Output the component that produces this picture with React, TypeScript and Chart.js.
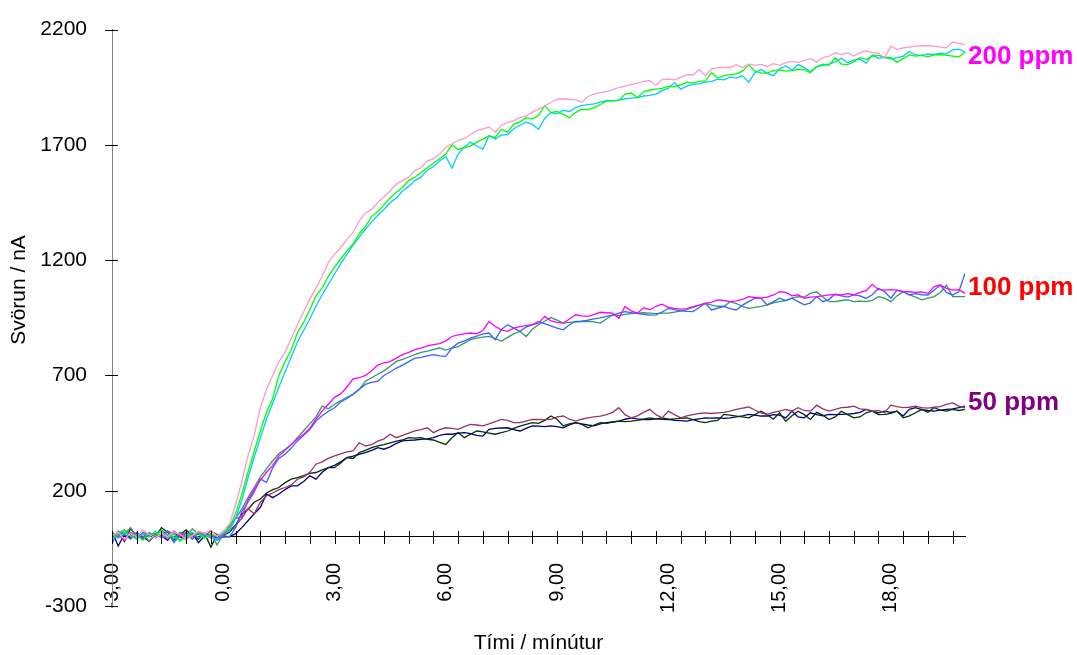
import React, { useEffect, useRef } from 'react';
import { Chart, registerables } from 'chart.js';

Chart.register(...registerables);

// Time grid: samples every 10 s (1/6 min), starting at -3,00 min
const START_MIN = -3;
const STEP_MIN = 1 / 6;

// ---- 200 ppm ----
const PINK_200 = [
  5, 20, -10, 15, 0, 30,
  10, -5, 15, 0, 20, 10,
  -10, 5, 25, 15, 30, 0,
  25, 55, 140, 240, 350, 440,
  560, 640, 700, 760, 800, 860,
  920, 975, 1030, 1080, 1130, 1190,
  1225, 1255, 1290, 1320, 1370, 1405,
  1420, 1450, 1475, 1500, 1530, 1545,
  1560, 1590, 1600, 1630, 1640, 1660,
  1690, 1705, 1720, 1728, 1745, 1762,
  1768, 1778, 1755, 1785, 1797, 1805,
  1818, 1825, 1842, 1855, 1868, 1885,
  1898, 1900, 1898, 1895, 1885, 1910,
  1920, 1927, 1932, 1940, 1948, 1955,
  1962, 1968, 1975, 1979, 1958, 1984,
  1985, 1982, 1993, 2005, 2003, 2027,
  2000, 2030, 2034, 2036, 2035, 2048,
  2035, 2050, 2045, 2049, 2040, 2052,
  2045, 2057, 2062, 2057, 2066, 2074,
  2060, 2078, 2085, 2100, 2092, 2100,
  2085, 2100, 2107, 2100, 2097, 2078,
  2128, 2114, 2121, 2124, 2128, 2130,
  2131, 2128, 2124, 2121, 2146, 2140,
  2136,
];
const GREEN_200 = [
  -10, 15, 30, 0, 10, -15,
  20, 5, 25, -5, 15, -20,
  0, 10, 20, -5, 10, 5,
  20, 40, 100, 185, 280, 370,
  460, 540, 600, 700, 760, 810,
  885, 930, 985, 1045, 1080, 1130,
  1170, 1205, 1240, 1270, 1315, 1345,
  1390, 1410, 1440, 1470, 1495, 1515,
  1545, 1560, 1580, 1600, 1620, 1640,
  1660, 1700, 1680, 1688, 1695, 1712,
  1725, 1740, 1732, 1768, 1755, 1790,
  1800, 1818, 1812, 1828, 1870, 1840,
  1845, 1832, 1818, 1840, 1855, 1852,
  1862, 1875, 1890, 1892, 1893, 1920,
  1925, 1905, 1930, 1938, 1942, 1945,
  1955, 1952, 1960, 1972, 1968, 1975,
  1978, 2013, 1990, 2000, 2005, 2008,
  2020, 2048, 2020, 2012, 2010, 2022,
  2025, 2020, 2022, 2028, 2025, 2013,
  2040, 2050, 2045, 2078, 2050, 2048,
  2060, 2078, 2070, 2085, 2088, 2080,
  2078, 2058, 2075, 2090, 2085, 2088,
  2082, 2090, 2092, 2088, 2085, 2082,
  2102,
];
const CYAN_200 = [
  10, -5, 20, 5, -10, 15,
  0, 25, -5, 10, 0, -15,
  5, 20, -5, 10, 0, -10,
  15, 25, 80, 160, 255, 345,
  430, 510, 580, 650, 715, 780,
  845, 895, 945, 1000, 1050, 1095,
  1140, 1185, 1225, 1265, 1300, 1335,
  1365, 1395, 1420, 1450, 1470, 1500,
  1520, 1545, 1560, 1590, 1605, 1630,
  1650, 1600, 1660, 1690, 1712, 1695,
  1682, 1740, 1725, 1742, 1745, 1770,
  1785, 1798, 1790, 1768, 1815, 1840,
  1835, 1850, 1845, 1862, 1870, 1875,
  1878, 1885, 1892, 1890, 1895, 1900,
  1903, 1905, 1912, 1915, 1920, 1935,
  1945, 1970, 1942, 1955, 1962, 1965,
  1972, 1975, 1985, 1982, 1995, 1990,
  2000, 1972, 2012, 2027, 2010, 2000,
  2030, 2042, 2025, 2048, 2035, 2018,
  2038, 2045, 2050, 2060, 2076, 2056,
  2068, 2072, 2055, 2090, 2075, 2080,
  2072, 2078, 2085, 2105, 2090, 2088,
  2095, 2092, 2098, 2095, 2112, 2115,
  2103,
];

// ---- 100 ppm ----
const MAGENTA_100 = [
  0, 10, -15, 20, 5, -5,
  15, 0, 10, -10, 25, 5,
  15, 0, 20, 10, -5, 5,
  10, 50, 80, 85, 160, 205,
  245, 280, 310, 350, 375, 400,
  425, 445, 470, 510, 545, 575,
  605, 620, 650, 685, 690, 700,
  720, 745, 755, 760, 775, 790,
  800, 812, 818, 828, 834, 838,
  850, 869, 876, 880, 884, 880,
  895, 934, 912, 898, 891, 905,
  912, 916, 920, 927, 956, 937,
  930, 927, 945, 963, 958, 956,
  965, 974, 972, 970, 948, 999,
  980, 970, 994, 985, 1000, 1009,
  995, 991, 988, 990, 999, 1005,
  1013, 1018, 1028, 1025, 1020, 1023,
  1030, 1042, 1038, 1035, 1040, 1049,
  1063, 1060, 1045, 1050, 1035, 1040,
  1042, 1045, 1049, 1050, 1049, 1055,
  1050, 1060, 1068, 1095, 1072, 1070,
  1072, 1070, 1063, 1063, 1060, 1062,
  1056, 1085, 1092, 1078, 1070, 1072,
  1056,
];
const BLUE_100 = [
  -30, 25, 10, -10, 20, 0,
  15, -5, 10, 25, -25, 5,
  15, -10, 20, 0, 10, -15,
  5, 0, 40, 110, 150, 195,
  251, 236, 300, 340, 358, 385,
  416, 440, 465, 502, 525, 545,
  560, 585, 600, 618, 640, 661,
  670, 675, 700, 715, 732, 745,
  760, 775, 778, 785, 790, 785,
  783, 820, 840, 850, 862, 870,
  880, 884, 855, 900, 920, 905,
  891, 910, 920, 934, 925, 915,
  905, 898, 920, 934, 935, 940,
  945, 950, 956, 962, 970, 977,
  972, 968, 965, 962, 963, 975,
  991, 985, 980, 978, 977, 995,
  1013, 984, 992, 1000, 990, 984,
  1005, 1020, 1035, 1035, 1006, 1020,
  1035, 1025, 1035, 1020, 1006, 1015,
  1042, 1020, 1030, 1053, 1045, 1040,
  1049, 1045, 1035, 1050, 1078, 1063,
  1035, 1070, 1063, 1049, 1055, 1050,
  1049, 1070, 1092, 1060, 1049, 1063,
  1142,
];
const SEAGREEN_100 = [
  20, -5, 10, 40, 0, 15,
  -20, 10, 30, 5, -10, 20,
  0, 35, 10, -5, 15, -35,
  10, 40, 80, 120, 170, 215,
  260, 295, 330, 360, 380, 400,
  430, 460, 490, 520, 567, 555,
  575, 590, 605, 618, 640, 675,
  690, 705, 720, 740, 761, 770,
  780, 790, 800, 805, 812, 819,
  810, 819, 825, 840, 855, 862,
  866, 869, 860, 848, 865, 880,
  891, 869, 900, 920, 935, 951,
  940, 927, 930, 932, 934, 935,
  932, 927, 945, 963, 960, 965,
  968, 970, 972, 970, 968, 970,
  970, 975, 980, 985, 995, 1005,
  1013, 1005, 1000, 999, 1020, 1012,
  1000, 991, 995, 1000, 1006, 1015,
  1020, 1025, 1035, 1042, 1040, 1056,
  1063, 1040, 1020, 1020, 1025, 1028,
  1020, 1022, 1020, 1025, 1042, 1035,
  1020, 1045, 1063, 1050, 1040, 1028,
  1035, 1042, 1060, 1092, 1042, 1042,
  1042,
];

// ---- 50 ppm ----
const MAROON_50 = [
  15, 0, 30, 10, -10, 20,
  5, 15, -5, 25, 10, 0,
  20, -10, 15, 5, 25, 10,
  0, 30, 49, 80, 122, 100,
  150, 178, 190, 205, 214, 225,
  250, 260, 280, 315, 325, 340,
  351, 360, 368, 373, 408, 394,
  400, 415, 425, 445, 430, 440,
  450, 460, 465, 473, 452, 465,
  473, 470, 466, 478, 488, 485,
  481, 490, 500, 509, 505, 495,
  495, 502, 509, 509, 508, 509,
  520, 524, 510, 502, 510, 516,
  520, 524, 530, 540, 560, 530,
  516, 525, 540, 553, 530, 516,
  545, 530, 516, 525, 530, 535,
  538, 535, 538, 540, 545, 553,
  558, 563, 550, 538, 531, 540,
  545, 553, 545, 560, 548, 545,
  571, 555, 545, 553, 560, 562,
  567, 555, 553, 545, 548, 538,
  571, 565, 560, 562, 567, 560,
  558, 562, 565, 574, 581, 567,
  560,
];
const DARKGREEN_50 = [
  0, 20, -20, 35, 5, -10,
  15, 0, 40, 20, -15, 10,
  30, 5, -10, 15, -45, 10,
  5, 20, 50, 99, 120, 150,
  164, 190, 205, 214, 235, 250,
  257, 265, 275, 279, 290, 300,
  300, 320, 344, 340, 365, 375,
  387, 395, 400, 408, 415, 420,
  430, 428, 430, 423, 420, 410,
  401, 430, 452, 430, 445, 459,
  455, 450, 445, 452, 459, 470,
  480, 488, 495, 492, 505, 524,
  510, 481, 490, 495, 488, 473,
  485, 495, 492, 498, 502, 500,
  502, 505, 510, 516, 512, 510,
  509, 512, 514, 516, 508, 500,
  495, 502, 505, 531, 528, 524,
  520, 516, 530, 545, 530, 510,
  538, 501, 525, 545, 530, 509,
  540, 528, 509, 520, 545, 530,
  516, 520, 538, 545, 530, 531,
  535, 545, 516, 525, 538, 553,
  540, 560, 550, 545, 553, 548,
  553,
];
const NAVY_50 = [
  25, -40, 10, -5, 15, 0,
  -20, 10, 5, -15, 20, 0,
  -10, 15, -25, 5, 10, -5,
  0, 0, 14, 40, 70, 100,
  128, 186, 170, 186, 205, 221,
  221, 240, 265, 250, 280, 300,
  310, 325, 344, 350, 358, 365,
  375, 387, 380, 390, 405, 416,
  418, 420, 423, 425, 430, 440,
  445, 445, 450, 452, 448, 440,
  437, 466, 470, 472, 473, 465,
  459, 470, 481, 480, 478, 481,
  478, 473, 485, 495, 490, 485,
  481, 490, 495, 498, 502, 510,
  516, 512, 509, 509, 512, 516,
  510, 505, 504, 502, 508, 512,
  516, 515, 516, 514, 516, 520,
  525, 531, 528, 524, 524, 530,
  528, 516, 545, 520, 516, 538,
  530, 525, 531, 530, 531, 532,
  535, 540, 553, 545, 538, 545,
  540, 545, 524, 553, 560, 552,
  548, 545, 550, 553, 555, 560,
  567,
];

const SERIES = [
  { label: '200 ppm (1)', values: PINK_200, color: '#FF99CC' },
  { label: '200 ppm (2)', values: GREEN_200, color: '#00FF00' },
  { label: '200 ppm (3)', values: CYAN_200, color: '#00CCFF' },
  { label: '100 ppm (1)', values: MAGENTA_100, color: '#FF00FF' },
  { label: '100 ppm (2)', values: BLUE_100, color: '#3366FF' },
  { label: '100 ppm (3)', values: SEAGREEN_100, color: '#339966' },
  { label: '50 ppm (1)', values: MAROON_50, color: '#993366' },
  { label: '50 ppm (2)', values: DARKGREEN_50, color: '#003300' },
  { label: '50 ppm (3)', values: NAVY_50, color: '#000080' },
];

const X_LABEL_VALUES = [-3, 0, 3, 6, 9, 12, 15, 18];
const X_MIN = -3;
const X_MAX = 20;
const X_TICK_MARK_STEP = 2 / 3;
const Y_TICKS = [-300, 200, 700, 1200, 1700, 2200];
const Y_MIN = -300;
const Y_MAX = 2200;

const X_TITLE = 'Tími / mínútur';
const Y_TITLE = 'Svörun / nA';

const GROUP_LABELS = [
  { text: '200 ppm', value: 2080, color: '#FF00FF' },
  { text: '100 ppm', value: 1081, color: '#FF0000' },
  { text: '50 ppm', value: 582, color: '#800080' },
];

const FONT_FAMILY = '"Liberation Sans", Arial, Helvetica, sans-serif';

const decorPlugin = {
  id: 'decor',
  afterDraw(chart: any) {
    const { ctx, chartArea } = chart;
    const xs = chart.scales.x;
    const ys = chart.scales.y;
    const y0 = ys.getPixelForValue(0);
    ctx.save();
    ctx.strokeStyle = '#000';
    ctx.lineWidth = 1;
    ctx.beginPath();
    for (let k = 0; X_MIN + k * X_TICK_MARK_STEP <= X_MAX + 1e-9; k++) {
      const px = Math.round(xs.getPixelForValue(X_MIN + k * X_TICK_MARK_STEP)) + 0.5;
      ctx.moveTo(px, Math.round(y0) - 6);
      ctx.lineTo(px, Math.round(y0) + 7);
    }
    for (const v of Y_TICKS) {
      const py = Math.round(ys.getPixelForValue(v)) + 0.5;
      ctx.moveTo(chartArea.left - 7, py);
      ctx.lineTo(chartArea.left + 6, py);
    }
    ctx.stroke();

    // group labels at right
    ctx.font = `bold 26px ${FONT_FAMILY}`;
    ctx.textAlign = 'left';
    ctx.textBaseline = 'middle';
    for (const g of GROUP_LABELS) {
      ctx.fillStyle = g.color;
      ctx.fillText(g.text, chartArea.right + 3, ys.getPixelForValue(g.value));
    }

    // axis titles
    ctx.fillStyle = '#000';
    ctx.font = `21px ${FONT_FAMILY}`;
    ctx.textAlign = 'center';
    ctx.textBaseline = 'middle';
    ctx.fillText(X_TITLE, (chartArea.left + chartArea.right) / 2, 643);
    ctx.translate(19, 290);
    ctx.rotate(-Math.PI / 2);
    ctx.fillText(Y_TITLE, 0, 0);
    ctx.restore();
  },
};

export default function App() {
  const canvasRef = useRef<HTMLCanvasElement>(null);

  useEffect(() => {
    if (!canvasRef.current) return;
    const datasets = SERIES.map((s) => ({
      label: s.label,
      data: s.values.map((v, i) => ({ x: START_MIN + i * STEP_MIN, y: v })),
      borderColor: s.color,
      backgroundColor: s.color,
      borderWidth: 1.3,
      pointRadius: 0,
      fill: false,
      tension: 0,
    }));

    const chart = new Chart(canvasRef.current, {
      type: 'line',
      data: { datasets },
      options: {
        animation: false,
        responsive: true,
        maintainAspectRatio: false,
        layout: { padding: { top: 27, right: 112, bottom: 49, left: 0 } },
        plugins: {
          legend: { display: false },
          tooltip: { enabled: false },
          title: { display: false },
        },
        scales: {
          x: {
            type: 'linear',
            min: X_MIN,
            max: X_MAX,
            position: { y: 0 } as any,
            grid: { display: false },
            border: { display: true, color: '#000', width: 1 },
            afterBuildTicks: (scale: any) => {
              scale.ticks = X_LABEL_VALUES.map((v) => ({ value: v }));
            },
            ticks: {
              autoSkip: false,
              minRotation: 90,
              maxRotation: 90,
              padding: 18,
              color: '#000',
              font: { family: FONT_FAMILY, size: 20 },
              callback: (v: any) => Number(v).toFixed(2).replace('.', ','),
            },
          },
          y: {
            type: 'linear',
            min: Y_MIN,
            max: Y_MAX,
            grid: { display: false },
            border: { display: true, color: '#808080', width: 1 },
            afterBuildTicks: (scale: any) => {
              scale.ticks = Y_TICKS.map((v) => ({ value: v }));
            },
            afterFit: (scale: any) => {
              scale.width = 112;
            },
            ticks: {
              padding: 17,
              color: '#000',
              font: { family: FONT_FAMILY, size: 21 },
              callback: (v: any) => String(v),
            },
          },
        },
      },
      plugins: [decorPlugin],
    });
    return () => chart.destroy();
  }, []);

  return (
    <div style={{ position: 'fixed', left: 0, top: 0, width: 1077, height: 655, background: '#fff' }}>
      <canvas ref={canvasRef} />
    </div>
  );
}
